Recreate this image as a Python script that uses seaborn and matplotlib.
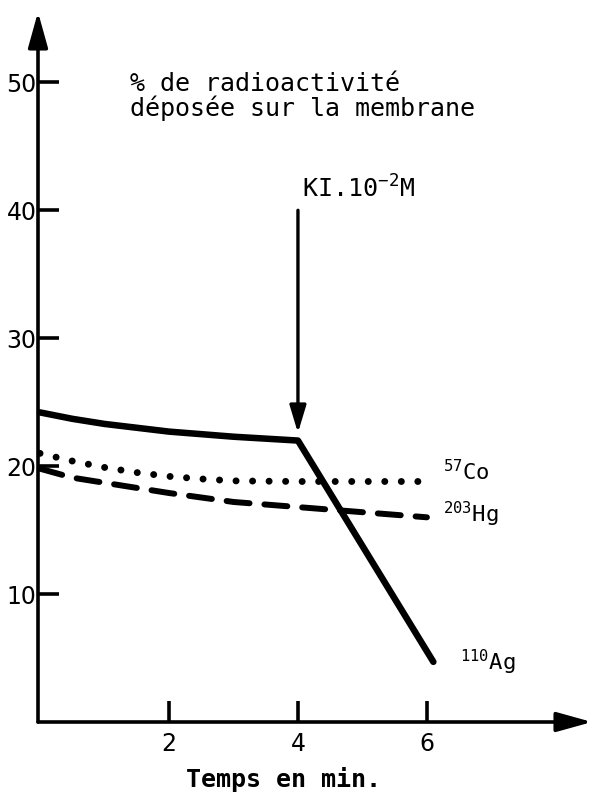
import matplotlib
matplotlib.use("Agg")
import matplotlib.pyplot as plt
import seaborn as sns

# Deposited radioactivity (%) versus time (min) for three isotopes
time_ag = [0, 0.5, 1, 2, 3, 4, 6.1]
ag_110 = [24.2, 23.7, 23.3, 22.7, 22.3, 22.0, 4.7]

time_co = [0, 0.5, 1, 1.5, 2, 2.5, 3, 4, 5, 6]
co_57 = [21.0, 20.4, 19.9, 19.5, 19.2, 19.0, 18.85, 18.8, 18.8, 18.8]

time_hg = [0, 0.5, 1, 1.5, 2, 3, 4, 5, 6]
hg_203 = [19.8, 19.1, 18.7, 18.3, 17.9, 17.2, 16.8, 16.4, 16.0]

x_ticks = [2, 4, 6]
y_ticks = [10, 20, 30, 40, 50]

ki_time = 4.0

sns.set_style("white")
plt.rcParams["font.family"] = ["DejaVu Sans"]
plt.rcParams["mathtext.fontset"] = "custom"
plt.rcParams["mathtext.rm"] = "DejaVu Sans Mono"
plt.rcParams["mathtext.it"] = "DejaVu Sans Mono"
plt.rcParams["mathtext.bf"] = "DejaVu Sans Mono:bold"

W, H = 596, 798
fig = plt.figure(figsize=(W / 100, H / 100), dpi=100)
fig.patch.set_facecolor("white")

# axes placed so the hand-drawn axes meet at the lower left
ax = fig.add_axes([38 / W, (H - 722) / H, (592 - 38) / W, (722 - 12) / H])
ax.set_facecolor("white")
ax.set_xlim(-0.031, 8.56)
ax.set_ylim(0, 55.5)

mono = "DejaVu Sans Mono"

sns.lineplot(x=time_ag, y=ag_110, ax=ax, color="black", lw=4.7,
             solid_capstyle="round", solid_joinstyle="round")
sns.lineplot(x=time_co, y=co_57, ax=ax, color="black", lw=5.0,
             linestyle=(0, (0.01, 2.37)), dash_capstyle="round")
sns.lineplot(x=time_hg, y=hg_203, ax=ax, color="black", lw=4.3,
             linestyle=(0, (3.85, 2.5)), dash_capstyle="round")

for s in ax.spines.values():
    s.set_visible(False)

ax.set_xticks(x_ticks)
ax.set_yticks(y_ticks)
ax.set_xticklabels([str(v) for v in x_ticks])
ax.set_yticklabels([str(v) for v in y_ticks])
ax.tick_params(axis="both", direction="in", length=15, width=2.6,
               color="black", labelsize=17, labelcolor="black")
ax.tick_params(axis="y", pad=1, left=True)
ax.tick_params(axis="x", pad=7, bottom=True)
ax.set_xlabel("")
ax.set_ylabel("")
ax.grid(False)

# axis lines with arrow heads
arrow_kw = dict(arrowstyle="-|>,head_length=1.08,head_width=0.3",
                color="black", lw=2.6, mutation_scale=20,
                shrinkA=0, shrinkB=0)
ax.annotate("", xy=(0, 1), xytext=(0, 0), xycoords="axes fraction",
            textcoords="axes fraction", arrowprops=arrow_kw,
            annotation_clip=False)
ax.annotate("", xy=(1, 0), xytext=(0, 0), xycoords="axes fraction",
            textcoords="axes fraction", arrowprops=arrow_kw,
            annotation_clip=False)

# KI addition marker
ax.annotate("", xy=(ki_time, 22.6), xytext=(ki_time, 40.0),
            arrowprops=dict(arrowstyle="-|>,head_length=0.83,head_width=0.25",
                            color="black", lw=2.4, mutation_scale=20,
                            shrinkA=0, shrinkB=0))
ax.text(ki_time + 0.06, 41.0, r"KI.10$^{-2}$M", family=mono, fontsize=18,
        ha="left", va="baseline", color="black")

# y-axis title (two lines, one text; baseline is that of the second line)
ax.text(1.395, 47.4, "% de radioactivité\ndéposée sur la membrane",
        family=mono, fontsize=18, ha="left", va="baseline",
        multialignment="left", linespacing=0.95, color="black")

# curve labels
ax.text(6.25, 18.9, r"$^{57}$Co", family=mono, fontsize=16,
        ha="left", va="baseline", color="black")
ax.text(6.25, 15.6, r"$^{203}$Hg", family=mono, fontsize=16,
        ha="left", va="baseline", color="black")
ax.text(6.51, 4.06, r"$^{110}$Ag", family=mono, fontsize=16,
        ha="left", va="baseline", color="black")

# x-axis title
fig.text(283 / W, 1 - 787 / H, "Temps en min.", family=mono, fontsize=18,
         fontweight="bold", ha="center", va="baseline", color="black")

fig.savefig("out.png", dpi=100, facecolor="white")
